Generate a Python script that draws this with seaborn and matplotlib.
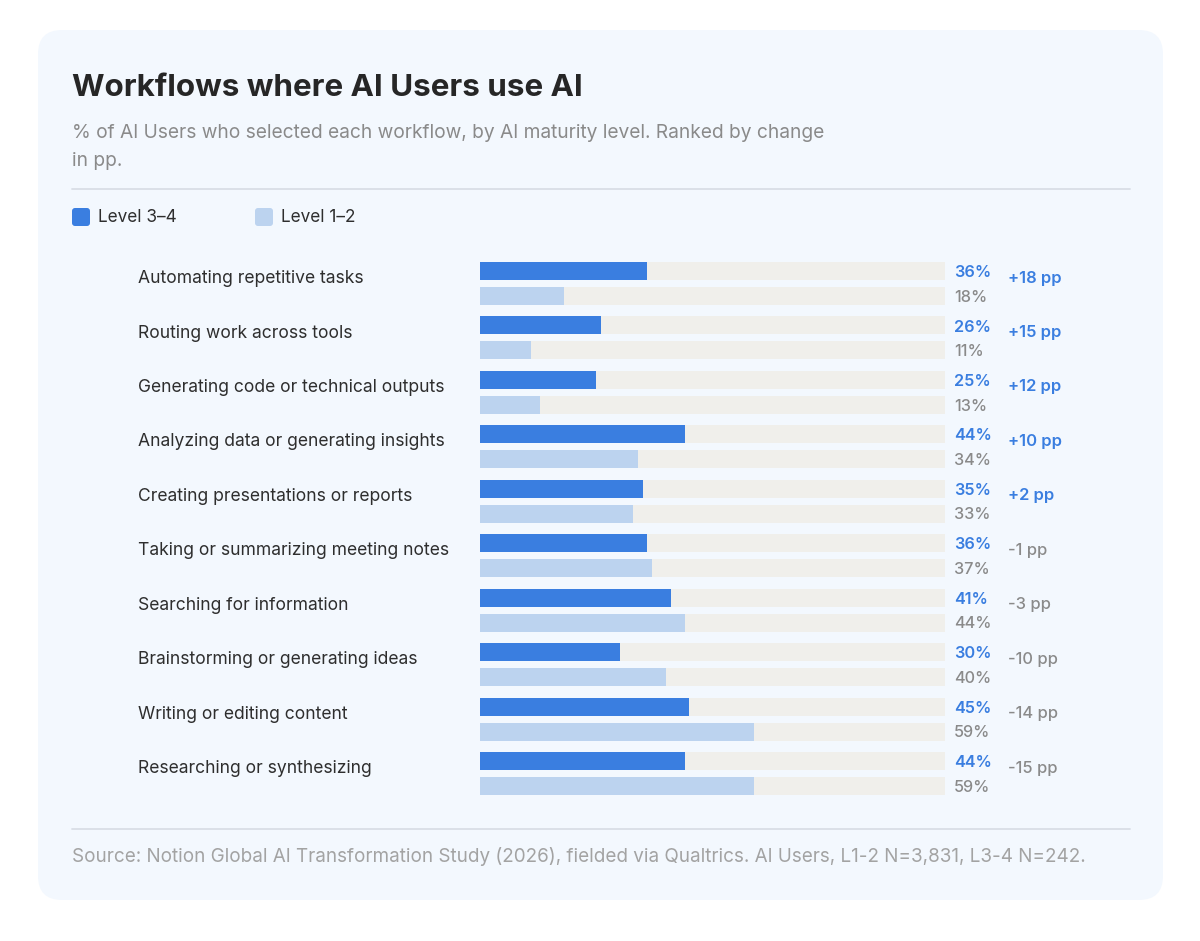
import matplotlib
matplotlib.use('Agg')
import matplotlib.pyplot as plt
import matplotlib.patches as mpatches
import matplotlib.transforms as mtransforms
from matplotlib.lines import Line2D
import pandas as pd
import seaborn as sns

# data
workflows = [
    'Automating repetitive tasks',
    'Routing work across tools',
    'Generating code or technical outputs',
    'Analyzing data or generating insights',
    'Creating presentations or reports',
    'Taking or summarizing meeting notes',
    'Searching for information',
    'Brainstorming or generating ideas',
    'Writing or editing content',
    'Researching or synthesizing',
]
level_34 = [36, 26, 25, 44, 35, 36, 41, 30, 45, 44]
level_12 = [18, 11, 13, 34, 33, 37, 44, 40, 59, 59]
change_pp = [18, 15, 12, 10, 2, -1, -3, -10, -14, -15]
levels = ['Level 3–4', 'Level 1–2']

DARK = '#3A7EE0'
LIGHT = '#BCD3EF'
TRACK = '#F0EFEB'
CARD = '#F3F8FE'
GRAY = '#8A8A8A'
TEXT = '#2E2E2E'

W, H = 1200, 941
def fx(x): return x / W
def fy(y): return 1 - y / H

sns.set_theme(style='white')
plt.rcParams['font.family'] = ['Inter', 'DejaVu Sans']

df = pd.DataFrame({
    'workflow': workflows * 2,
    'level': [levels[0]] * len(workflows) + [levels[1]] * len(workflows),
    'value': level_34 + level_12,
})
df['track'] = 100

fig = plt.figure(figsize=(12, 9.41), dpi=100)
fig.patch.set_facecolor('white')

# card background
card = mpatches.FancyBboxPatch((38, H - 900), 1125, 870,
                               boxstyle='round,pad=0,rounding_size=24',
                               facecolor=CARD, edgecolor='none',
                               transform=mtransforms.IdentityTransform(), zorder=-5)
fig.add_artist(card)

# bars area: x 480..945 px, rows centred 283.5 .. 773.5 px
ax = fig.add_axes([fx(480), fy(800.7), fx(945) - fx(480), fy(256.3) - fy(800.7)])
sns.barplot(data=df, y='workflow', x='track', hue='level', hue_order=levels,
            palette={levels[0]: TRACK, levels[1]: TRACK}, orient='h',
            width=0.92, gap=0.28, saturation=1, legend=False, ax=ax, linewidth=0)
sns.barplot(data=df, y='workflow', x='value', hue='level', hue_order=levels,
            palette={levels[0]: DARK, levels[1]: LIGHT}, orient='h',
            width=0.92, gap=0.28, saturation=1, legend=False, ax=ax, linewidth=0)
ax.set_xlim(0, 100)
ax.set_ylim(len(workflows) - 0.5, -0.5)
ax.axis('off')

tr = mtransforms.blended_transform_factory(fig.transFigure, ax.transData)
for i, name in enumerate(workflows):
    ax.text(fx(138), i - 0.09, name, transform=tr, ha='left', va='center',
            fontsize=12.6, color=TEXT)
    ax.text(fx(954), i - 0.2, f'{level_34[i]}%', transform=tr, ha='left',
            va='center', fontsize=11.7, color=DARK, fontweight='semibold')
    ax.text(fx(954), i + 0.25, f'{level_12[i]}%', transform=tr, ha='left',
            va='center', fontsize=11.7, color=GRAY, fontweight='medium')
    pp = change_pp[i]
    if pp > 0:
        ax.text(fx(1008), i - 0.1, f'+{pp} pp', transform=tr, ha='left',
                va='center', fontsize=11.9, color=DARK, fontweight='semibold')
    else:
        ax.text(fx(1008), i - 0.1, f'{pp} pp', transform=tr, ha='left',
                va='center', fontsize=11.9, color=GRAY, fontweight='medium')

# title and subtitle
fig.text(fx(72), fy(96), 'Workflows where AI Users use AI', ha='left', va='baseline',
         fontsize=22.6, fontweight='bold', color='#262626')
fig.text(fx(72), fy(138), '% of AI Users who selected each workflow, by AI maturity level. Ranked by change',
         ha='left', va='baseline', fontsize=13.8, color=GRAY)
fig.text(fx(72), fy(166), 'in pp.', ha='left', va='baseline', fontsize=13.8, color=GRAY)

# separators
for yy in (189, 829):
    fig.add_artist(Line2D([fx(72), fx(1130)], [fy(yy), fy(yy)], color='#D9DEE6',
                          linewidth=1.3, transform=fig.transFigure))

# legend
for x0, lab, col in ((72, levels[0], DARK), (255, levels[1], LIGHT)):
    fig.add_artist(mpatches.FancyBboxPatch((x0, H - 226), 18, 18,
                                           boxstyle='round,pad=0,rounding_size=3',
                                           facecolor=col, edgecolor='none',
                                           transform=mtransforms.IdentityTransform()))
    fig.text(fx(x0 + 26), fy(217), lab, ha='left', va='center', fontsize=12.4, color=TEXT)

# source
fig.text(fx(72), fy(856), 'Source: Notion Global AI Transformation Study (2026), fielded via Qualtrics. AI Users, L1-2 N=3,831, L3-4 N=242.',
         ha='left', va='center', fontsize=13.6, color='#A3A3A3')

fig.savefig('out.png', dpi=100, facecolor='white')
